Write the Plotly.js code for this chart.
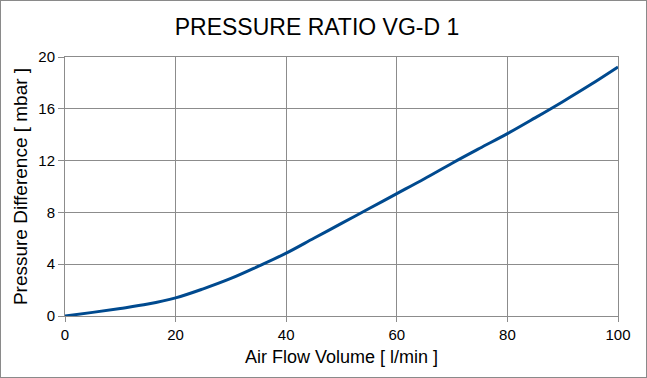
<!DOCTYPE html>
<html><head><meta charset="utf-8">
<script src="https://cdn.plot.ly/plotly-3.0.1.min.js"></script>
<style>html,body{margin:0;padding:0;background:#fff}#c{width:645px;height:376px;border:1px solid #8a8a8a}</style>
</head><body><div id="c"></div>
<script>
const flow = [0, 5, 10, 15, 20, 25, 30, 35, 40, 45, 50, 55, 60, 65, 70, 75, 80, 85, 90, 95, 100];
const pressure = [0, 0.28, 0.58, 0.92, 1.4, 2.1, 2.9, 3.85, 4.85, 6.0, 7.15, 8.3, 9.45, 10.6, 11.8, 12.95, 14.08, 15.3, 16.55, 17.85, 19.23];
const xTicks = [0, 20, 40, 60, 80, 100];
const yTicks = [0, 4, 8, 12, 16, 20];
const font = 'Liberation Sans, Arial, sans-serif';
Plotly.newPlot('c', [{
  x: flow, y: pressure, type: 'scatter', mode: 'lines',
  line: {color: '#004a8f', width: 3, shape: 'spline', smoothing: 1},
  hoverinfo: 'none'
}], {
  width: 645, height: 376,
  margin: {l: 64, r: 28, t: 56, b: 61},
  paper_bgcolor: '#fff', plot_bgcolor: '#fff',
  showlegend: false,
  font: {family: font, color: '#000'},
  title: {text: 'PRESSURE RATIO VG-D 1', font: {size: 23, family: font, color: '#000'}, x: 316/645, xanchor: 'center', y: 1 - 26/376, yref: 'container', yanchor: 'middle'},
  xaxis: {
    range: [0, 100], tickvals: xTicks, ticktext: xTicks.map(String),
    showgrid: true, gridcolor: '#8c8c8c', gridwidth: 1,
    showline: true, linecolor: '#8c8c8c', mirror: true, zeroline: false,
    ticks: 'outside', ticklen: 5, tickcolor: '#8c8c8c',
    tickfont: {size: 15, family: font, color: '#000'},
    title: {text: 'Air Flow Volume [ l/min ]', font: {size: 18, family: font, color: '#000'}, standoff: 8}
  },
  yaxis: {
    range: [0, 20], tickvals: yTicks, ticktext: yTicks.map(String),
    showgrid: true, gridcolor: '#8c8c8c', gridwidth: 1,
    showline: true, linecolor: '#8c8c8c', mirror: true, zeroline: false,
    ticks: 'outside', ticklen: 6, tickcolor: '#8c8c8c',
    tickfont: {size: 15, family: font, color: '#000'},
    title: {text: 'Pressure Difference [ mbar ]', font: {size: 19, family: font, color: '#000'}, standoff: 5}
  }
}, {staticPlot: true, displayModeBar: false});
</script></body></html>
